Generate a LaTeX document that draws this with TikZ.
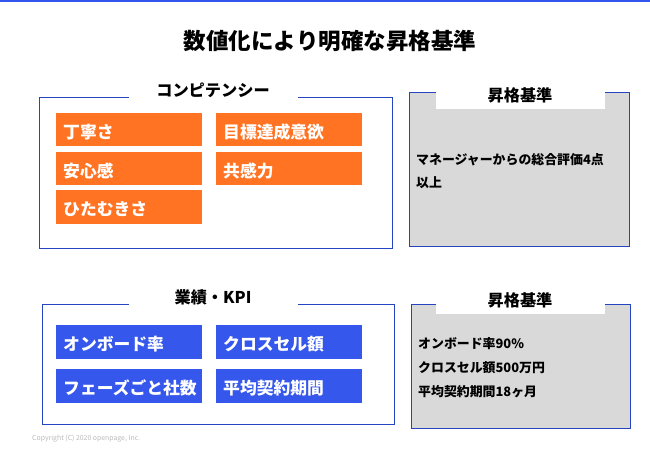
\documentclass[tikz,border=0pt]{standalone}
\usepackage{fontspec}
\setmainfont{Noto Sans CJK JP}
\definecolor{topblue}{HTML}{3355EE}
\definecolor{frameblue}{HTML}{2544BF}
\definecolor{orangebox}{HTML}{FF7322}
\definecolor{bluebox}{HTML}{3557EC}
\definecolor{graybox}{HTML}{D9D9D9}
\definecolor{copy}{HTML}{BBBBBB}
\tikzset{
  frame/.style={draw=frameblue, line width=0.9pt},
  tag/.style={fill=orangebox, minimum width=146pt, minimum height=33pt, inner sep=0pt, anchor=north west},
  kpi/.style={fill=bluebox, minimum width=146pt, minimum height=34pt, inner sep=0pt, anchor=north west},
  tagtext/.style={text=white, font=\fontsize{16.8}{19}\selectfont\bfseries, anchor=west, inner sep=0pt, xshift=7pt, yshift=-2pt},
  sectitle/.style={font=\fontsize{16.2}{18}\selectfont\bfseries, inner sep=0pt},
  crit/.style={font=\fontsize{12.9}{15}\selectfont\bfseries, anchor=west, inner sep=0pt},
}
\begin{document}
\begin{tikzpicture}[x=1pt,y=-1pt]
\useasboundingbox (0,0) rectangle (650,450);
\fill[white] (0,0) rectangle (650,450);
\fill[topblue] (0,0) rectangle (650,1.6);
\node[font=\fontsize{22.5}{26}\selectfont\bfseries, inner sep=0pt] (title) at (330,41) {数値化により明確な昇格基準};

% competency
\draw[frame] (39,97) rectangle (392,248);
\fill[white] (129,90) rectangle (298,104);
\node[sectitle] (comp) at (213,90) {コンピテンシー};
\node[tag] (c1) at (56,113) {};
\node[tagtext] (t1) at (c1.west) {丁寧さ};
\node[tag] (c2) at (216,113) {};
\node[tagtext] (t2) at (c2.west) {目標達成意欲};
\node[tag] (c3) at (56,152) {};
\node[tagtext] (t3) at (c3.west) {安心感};
\node[tag] (c4) at (216,152) {};
\node[tagtext] (t4) at (c4.west) {共感力};
\node[tag, minimum height=34pt] (c5) at (56,190) {};
\node[tagtext] (t5) at (c5.west) {ひたむきさ};

% criteria 1
\draw[frame, fill=graybox] (409,92) rectangle (629,246);
\fill[white] (436,86) rectangle (605,109);
\node[sectitle] (crit1) at (520,95) {昇格基準};
\node[crit] (r1a) at (416,160) {マネージャーからの総合評価4点};
\node[crit] (r1b) at (416,183) {以上};

% KPI
\draw[frame] (42,304) rectangle (394,424);
\fill[white] (129,296) rectangle (298,311);
\node[sectitle] (kpi) at (213,297) {業績・KPI};
\node[kpi] (k1) at (56,325) {};
\node[tagtext] (u1) at (k1.west) {オンボード率};
\node[kpi] (k2) at (216,325) {};
\node[tagtext] (u2) at (k2.west) {クロスセル額};
\node[kpi] (k3) at (56,369) {};
\node[tagtext] (u3) at (k3.west) {フェーズごと社数};
\node[kpi] (k4) at (216,369) {};
\node[tagtext] (u4) at (k4.west) {平均契約期間};

% criteria 2
\draw[frame, fill=graybox] (411,304) rectangle (630,428);
\fill[white] (436,297) rectangle (605,314);
\node[sectitle] (crit2) at (520,300) {昇格基準};
\node[crit] (r2a) at (418,344) {オンボード率90\%};
\node[crit] (r2b) at (418,368) {クロスセル額500万円};
\node[crit] (r2c) at (418,392) {平均契約期間18ヶ月};

\node[font=\fontsize{6.9}{8}\selectfont, text=copy, anchor=west, inner sep=0pt] (copyr) at (32,439) {Copyright (C) 2020 openpage, Inc.};
\end{tikzpicture}
\end{document}
